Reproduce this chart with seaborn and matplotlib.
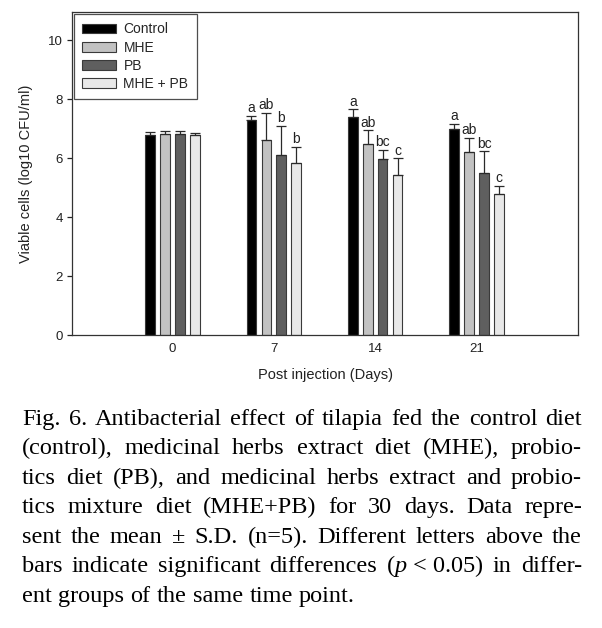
import pandas as pd
import matplotlib
matplotlib.use("Agg")
import matplotlib.pyplot as plt
import seaborn as sns

sns.set_theme(style="ticks")
plt.rcParams['font.family'] = ['Liberation Sans', 'DejaVu Sans']
plt.rcParams['mathtext.fontset'] = 'custom'
plt.rcParams['mathtext.rm'] = 'Liberation Serif'
plt.rcParams['mathtext.it'] = 'Liberation Serif:italic'

# --- data ---
days = ['0', '7', '14', '21']
groups = ['Control', 'MHE', 'PB', 'MHE + PB']
means = {
    'Control':  [6.78, 7.29, 7.38, 7.00],
    'MHE':      [6.82, 6.60, 6.46, 6.19],
    'PB':       [6.82, 6.10, 5.97, 5.50],
    'MHE + PB': [6.78, 5.84, 5.43, 4.77],
}
sds = {
    'Control':  [0.10, 0.13, 0.27, 0.16],
    'MHE':      [0.08, 0.93, 0.48, 0.50],
    'PB':       [0.08, 0.98, 0.31, 0.73],
    'MHE + PB': [0.07, 0.53, 0.56, 0.28],
}
letters = {
    'Control':  ['', 'a', 'a', 'a'],
    'MHE':      ['', 'ab', 'ab', 'ab'],
    'PB':       ['', 'b', 'bc', 'bc'],
    'MHE + PB': ['', 'b', 'c', 'c'],
}
palette = {'Control': '#000000', 'MHE': '#c2c2c2', 'PB': '#5f5f5f', 'MHE + PB': '#e8e8e8'}

caption_lines = [
    "Fig. 6. Antibacterial effect of tilapia fed the control diet",
    "(control), medicinal herbs extract diet (MHE), probio-",
    "tics diet (PB), and medicinal herbs extract and probio-",
    "tics mixture diet (MHE+PB) for 30 days. Data repre-",
    "sent the mean \u00b1 S.D. (n=5). Different letters above the",
    "bars indicate significant differences ($p$\u00a0<\u00a00.05) in differ-",
    "ent groups of the same time point.",
]

rows = []
for g in groups:
    for d, m in zip(days, means[g]):
        rows.append({'day': d, 'group': g, 'value': m})
df = pd.DataFrame(rows)

W, H = 602, 628
fig = plt.figure(figsize=(W / 100, H / 100), dpi=100)
ax = fig.add_axes([72 / W, 1 - 335 / H, (578 - 72) / W, (335 - 12) / H])

sns.barplot(data=df, x='day', y='value', hue='group', order=days, hue_order=groups,
            palette=palette, width=0.59, gap=0.36, edgecolor='#3a3a3a', linewidth=0.8,
            errorbar=None, ax=ax)

bar_sets = list(ax.containers)[:4]
for g, bars in zip(groups, bar_sets):
    for i, bar in enumerate(bars):
        xc = bar.get_x() + bar.get_width() / 2
        h = bar.get_height()
        ax.errorbar(xc, h, yerr=[[0], [sds[g][i]]], fmt='none', ecolor='#2a2a2a',
                    elinewidth=0.9, capsize=3.6, capthick=0.9)
        if letters[g][i]:
            ax.annotate(letters[g][i], (xc, h + sds[g][i]), xytext=(0, 0.5),
                        textcoords='offset points', ha='center', va='bottom',
                        fontsize=10, color='#222222')

ax.set_xlim(-0.99, 4.0)
ax.set_ylim(0, 10.95)
ax.set_yticks([0, 2, 4, 6, 8, 10])
ax.tick_params(axis='y', length=3.6, width=0.9, labelsize=9.5, pad=3, colors='#222222')
ax.tick_params(axis='x', length=0, labelsize=9.5, pad=6, colors='#222222')
for s in ax.spines.values():
    s.set_visible(True)
    s.set_color('#333333')
    s.set_linewidth(0.9)

ax.set_xlabel('Post injection (Days)', fontsize=10.5, labelpad=9, color='#222222')
ax.set_ylabel('Viable cells (log10 CFU/ml)', fontsize=10.5, labelpad=11, color='#222222')

handles = [bars.patches[0] for bars in bar_sets]
leg = ax.legend(handles, groups, loc='upper left', bbox_to_anchor=(0, 1), borderaxespad=0.15,
                fontsize=10, handlelength=2.4, handleheight=0.7, labelspacing=0.3,
                handletextpad=0.55, borderpad=0.6, fancybox=False, frameon=True)
leg.get_frame().set_edgecolor('#222222')
leg.get_frame().set_linewidth(0.9)

# --- justified caption ---
fig.canvas.draw()
renderer = fig.canvas.get_renderer()
left_px, right_px = 22, 582
baselines = [425, 454, 484, 513, 543, 572, 602]
for k, line in enumerate(caption_lines):
    words = line.split(' ')
    texts = [fig.text(0, 0, w, fontsize=17.5, family='Liberation Serif', color='black',
                      va='baseline', ha='left') for w in words]
    widths = [t.get_window_extent(renderer).width for t in texts]
    right = right_px if k < len(caption_lines) - 1 else 355
    gap = max((right - left_px - sum(widths)) / (len(words) - 1), 5)
    x = left_px
    for t, wd in zip(texts, widths):
        t.set_position((x / W, 1 - baselines[k] / H))
        x += wd + gap

fig.savefig('out.png', dpi=100)
